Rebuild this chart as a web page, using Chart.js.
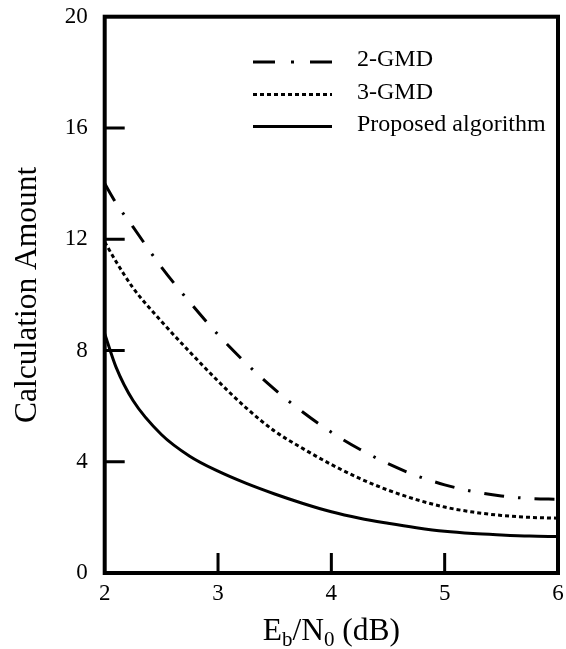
<!DOCTYPE html>
<html>
<head>
<meta charset="utf-8">
<script src="https://cdn.jsdelivr.net/npm/chart.js@4.4.0/dist/chart.umd.min.js"></script>
<style>
  html, body { margin: 0; padding: 0; background: #fff; }
</style>
</head>
<body>
<canvas id="chart" width="566" height="649"></canvas>
<script>
// values
const ebn0 = [2, 2.1, 2.25, 2.5, 2.75, 3, 3.25, 3.5, 3.75, 4, 4.25, 4.5, 4.75, 5, 5.25, 5.5, 5.75, 6];
const gmd2 = [14.0, 13.3, 12.44, 11.0, 9.74, 8.57, 7.53, 6.6, 5.78, 5.06, 4.45, 3.93, 3.5, 3.17, 2.93, 2.77, 2.68, 2.65];
const gmd3 = [11.9, 11.2, 10.25, 9.05, 7.95, 6.9, 5.93, 5.1, 4.47, 3.9, 3.4, 2.98, 2.64, 2.37, 2.19, 2.07, 2.0, 1.97];
const proposed = [8.6, 7.4, 6.2, 4.98, 4.2, 3.66, 3.22, 2.84, 2.5, 2.2, 1.97, 1.79, 1.63, 1.5, 1.42, 1.37, 1.33, 1.31];
const seriesNames = ['2-GMD', '3-GMD', 'Proposed algorithm'];
const xTicks = [2, 3, 4, 5, 6];
const yTicks = [0, 4, 8, 12, 16, 20];

const SERIF = "'Liberation Serif', 'Times New Roman', Times, serif";

const toPoints = (ys) => ys.map((y, i) => ({ x: ebn0[i], y: y }));

// legend samples are drawn a bit more evenly than the curves
const legendDash = [[22, 16, 3, 16], [4, 3], []];

// frame, inward ticks, legend and the x title (it needs subscripts)
const decor = {
    id: 'decor',
    afterDatasetsDraw(chart) {
        const { ctx, chartArea: a, scales } = chart;
        ctx.save();
        ctx.strokeStyle = '#000';
        ctx.lineWidth = 3;
        ctx.setLineDash([]);
        ctx.beginPath();
        xTicks.forEach(v => {
            if (v <= scales.x.min || v >= scales.x.max) return;
            const px = scales.x.getPixelForValue(v);
            ctx.moveTo(px, a.bottom);
            ctx.lineTo(px, a.bottom - 20);
        });
        yTicks.forEach(v => {
            if (v <= scales.y.min || v >= scales.y.max) return;
            const py = scales.y.getPixelForValue(v);
            ctx.moveTo(a.left, py);
            ctx.lineTo(a.left + 20, py);
        });
        ctx.stroke();

        ctx.lineWidth = 4;
        ctx.strokeRect(a.left, a.top, a.right - a.left, a.bottom - a.top);

        // legend inside the plot
        const rows = [62, 94.5, 126.5];
        chart.data.datasets.forEach((ds, i) => {
            ctx.lineWidth = ds.borderWidth;
            ctx.lineCap = 'butt';
            ctx.setLineDash(legendDash[i]);
            ctx.beginPath();
            ctx.moveTo(253, rows[i]);
            ctx.lineTo(332, rows[i]);
            ctx.stroke();
            ctx.setLineDash([]);
            ctx.fillStyle = '#000';
            ctx.font = '24px ' + SERIF;
            ctx.textBaseline = 'alphabetic';
            ctx.textAlign = 'left';
            ctx.fillText(ds.label, 357, rows[i] + 4);
        });

        // x axis title: E_b/N_0 (dB)
        const parts = [
            { t: 'E', size: 31.5, dy: 0 },
            { t: 'b', size: 21, dy: 6 },
            { t: '/N', size: 31.5, dy: 0 },
            { t: '0', size: 21, dy: 6 },
            { t: ' (dB)', size: 31.5, dy: 0 }
        ];
        let total = 0;
        parts.forEach(p => {
            ctx.font = p.size + 'px ' + SERIF;
            p.w = ctx.measureText(p.t).width;
            total += p.w;
        });
        let x = (a.left + a.right) / 2 - total / 2;
        const base = 640;
        parts.forEach(p => {
            ctx.font = p.size + 'px ' + SERIF;
            ctx.fillText(p.t, x, base + p.dy);
            x += p.w;
        });
        ctx.restore();
    }
};

new Chart(document.getElementById('chart'), {
    type: 'line',
    data: {
        datasets: [
            {
                label: seriesNames[0],
                data: toPoints(gmd2),
                borderColor: '#000',
                borderWidth: 3,
                borderDash: [20, 14, 2.5, 14]
            },
            {
                label: seriesNames[1],
                data: toPoints(gmd3),
                borderColor: '#000',
                borderWidth: 3,
                borderDash: [4, 3]
            },
            {
                label: seriesNames[2],
                data: toPoints(proposed),
                borderColor: '#000',
                borderWidth: 3,
                borderDash: []
            }
        ]
    },
    options: {
        responsive: false,
        animation: false,
        devicePixelRatio: 1,
        elements: {
            point: { radius: 0 },
            line: { cubicInterpolationMode: 'monotone', borderCapStyle: 'butt' }
        },
        layout: { padding: { left: 0, right: 8, top: 16.7, bottom: 0 } },
        plugins: {
            legend: { display: false },
            tooltip: { enabled: false }
        },
        scales: {
            x: {
                type: 'linear',
                min: 2,
                max: 6,
                afterFit: s => { s.height = 76; s.paddingLeft = 0; s.paddingRight = 0; },
                afterBuildTicks: s => { s.ticks = xTicks.map(v => ({ value: v })); },
                grid: { display: false, drawTicks: false },
                border: { display: false },
                ticks: {
                    color: '#000',
                    padding: 7,
                    font: { family: SERIF, size: 23 }
                }
            },
            y: {
                type: 'linear',
                min: 0,
                max: 20,
                afterFit: s => { s.width = 104.7; s.paddingTop = 0; s.paddingBottom = 0; },
                afterBuildTicks: s => { s.ticks = yTicks.map(v => ({ value: v })); },
                grid: { display: false, drawTicks: false },
                border: { display: false },
                ticks: {
                    color: '#000',
                    padding: 17,
                    font: { family: SERIF, size: 23 }
                },
                title: {
                    display: true,
                    text: 'Calculation Amount',
                    color: '#000',
                    padding: { top: 9, bottom: 0 },
                    font: { family: SERIF, size: 31.5 }
                }
            }
        }
    },
    plugins: [decor]
});
</script>
</body>
</html>
